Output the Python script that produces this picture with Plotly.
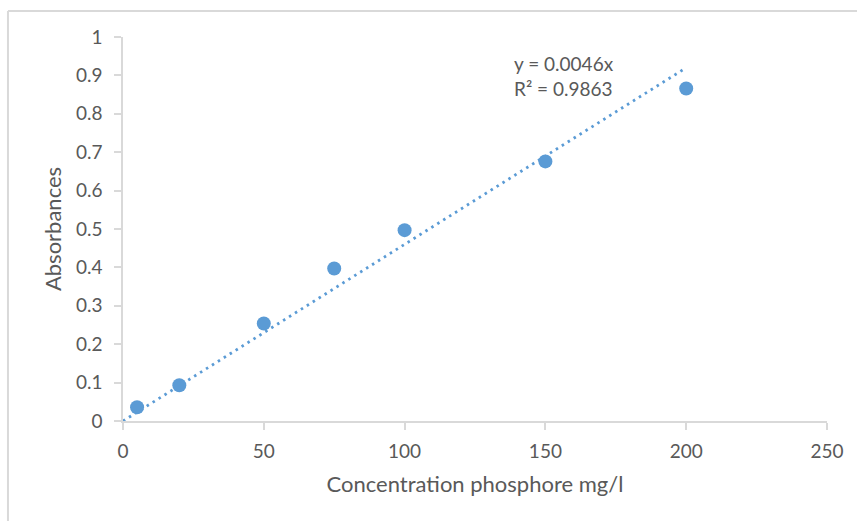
import plotly.graph_objects as go

# Calibration data: phosphorus concentration (mg/l) vs. measured absorbance
concentration = [5, 20, 50, 75, 100, 150, 200]
absorbance = [0.036, 0.093, 0.254, 0.397, 0.497, 0.676, 0.866]

# Linear trendline forced through the origin
slope = 0.0046
r_squared = 0.9863
trend_x = [0, max(concentration)]
trend_y = [slope * x for x in trend_x]

x_ticks = [0, 50, 100, 150, 200, 250]
y_ticks = [0, 0.1, 0.2, 0.3, 0.4, 0.5, 0.6, 0.7, 0.8, 0.9, 1]

blue = "#5B9BD5"
text_grey = "#595959"
axis_grey = "#D9D9D9"
font_family = "Lato, Open Sans, sans-serif"

fig = go.Figure()

fig.add_trace(go.Scatter(
    x=trend_x, y=trend_y, mode="lines",
    line=dict(color=blue, width=2.8, dash="2.5px,4.5px"),
    hoverinfo="skip", showlegend=False,
))

fig.add_trace(go.Scatter(
    x=concentration, y=absorbance, mode="markers",
    marker=dict(color=blue, size=14),
    showlegend=False,
))

fig.add_annotation(
    x=138, y=0.965, xref="x", yref="y",
    xanchor="left", yanchor="top", align="left", showarrow=False,
    text=f"y = {slope}x<br>R² = {r_squared}",
    font=dict(family=font_family, size=19, color=text_grey),
)

# Outer chart frame (top and left edges)
fig.add_shape(type="line", xref="paper", yref="paper",
              x0=-0.1634, y0=1.0677, x1=1.2, y1=1.0677,
              line=dict(color=axis_grey, width=2))
fig.add_shape(type="line", xref="paper", yref="paper",
              x0=-0.1634, y0=1.0677, x1=-0.1634, y1=-0.4,
              line=dict(color=axis_grey, width=2))

fig.update_layout(
    width=857, height=521,
    margin=dict(l=123, r=30, t=37, b=100),
    paper_bgcolor="white", plot_bgcolor="white",
    font=dict(family=font_family, size=19, color=text_grey),
    xaxis=dict(
        range=[0, 250], tickvals=x_ticks, showgrid=False, zeroline=False,
        showline=True, linecolor=axis_grey, linewidth=1.5,
        ticks="outside", ticklen=7, tickcolor=axis_grey, tickwidth=1.5,
        ticklabelstandoff=5,
        title=dict(text="Concentration phosphore mg/l", standoff=16,
                   font=dict(size=22, color=text_grey)),
    ),
    yaxis=dict(
        range=[0, 1], tickvals=y_ticks, showgrid=False, zeroline=False,
        showline=True, linecolor=axis_grey, linewidth=1.5,
        ticks="outside", ticklen=7, tickcolor=axis_grey, tickwidth=1.5,
        ticklabelstandoff=8,
        title=dict(text="Absorbances", standoff=8,
                   font=dict(size=22, color=text_grey)),
    ),
)

fig.write_html("out.html")
